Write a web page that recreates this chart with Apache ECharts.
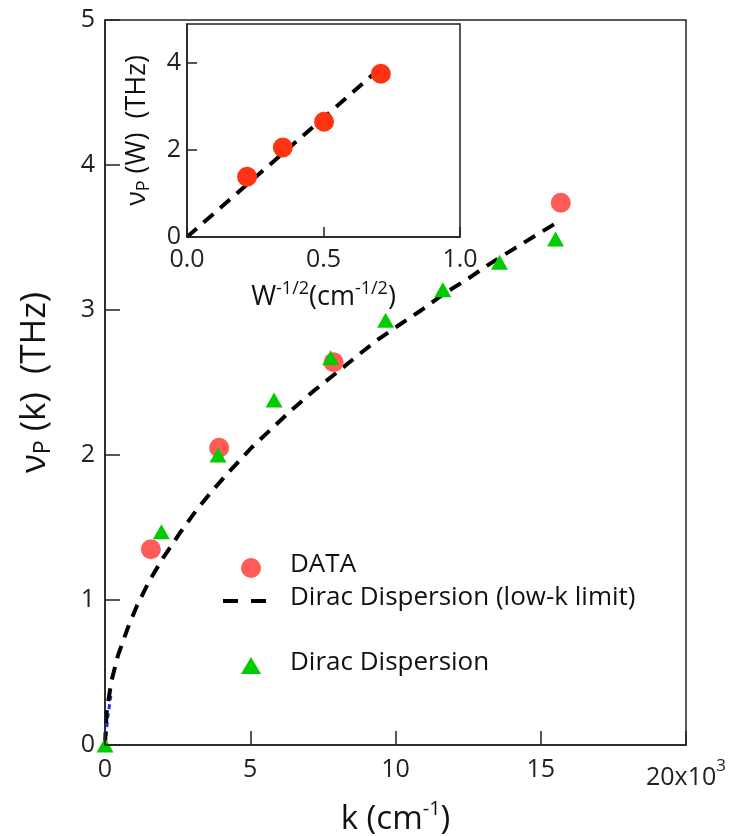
<!DOCTYPE html>
<html>
<head>
<meta charset="utf-8">
<script src="https://cdn.jsdelivr.net/npm/echarts@6/dist/echarts.min.js"></script>
<style>html,body{margin:0;padding:0;background:#fff}#c{width:743px;height:836px}</style>
</head>
<body>
<div id="c"></div>
<script>
// ---- main panel data (k in 10^3 cm^-1, nu in THz) ----
var dataK = [1.58, 3.93, 7.87, 15.69];
var dataNu = [1.35, 2.05, 2.64, 3.74];
var diracK = [0, 1.94, 3.89, 5.82, 7.77, 9.66, 11.63, 13.58, 15.51];
var diracNu = [0, 1.47, 2.0, 2.38, 2.67, 2.93, 3.14, 3.33, 3.49];
var lowKk = [0, 0.05, 0.22, 0.45, 0.79, 1.1, 1.52, 2.0, 2.57, 3.15, 3.72, 4.3, 5.04, 5.73, 6.42, 7.11, 7.86, 8.6, 9.35, 10.15, 10.9, 11.65, 12.45, 13.26, 14.06, 14.87, 15.7];
var lowKnu = [0, 0.22, 0.44, 0.62, 0.81, 0.96, 1.13, 1.29, 1.46, 1.62, 1.76, 1.89, 2.05, 2.18, 2.31, 2.43, 2.55, 2.67, 2.79, 2.9, 3.0, 3.11, 3.21, 3.32, 3.42, 3.52, 3.62];
var blueK = [0, 0.1, 0.2];
var blueNu = [0, 0.2, 0.34];
// ---- inset data ----
var insetW = [0.22, 0.351, 0.502, 0.71];
var insetNu = [1.38, 2.05, 2.64, 3.74];
var insetLineW = [0, 0.69];
var insetLineNu = [0, 3.77];
// ---- tick values ----
var mainXTicks = [0, 5, 10, 15, 20];
var mainYTicks = [0, 1, 2, 3, 4, 5];
var insetXTicks = [0, 0.5, 1.0];
var insetYTicks = [0, 2, 4];

function zip(a, b) { return a.map(function (v, i) { return [v, b[i]]; }); }

var FONT = 'Open Sans';
var AX = '#222';
var chart = echarts.init(document.getElementById('c'), null, {renderer: 'canvas'});

function tickOpt(len) {
  return {show: true, inside: true, length: len, lineStyle: {color: AX, width: 1.5}};
}

chart.setOption({
  backgroundColor: '#fff',
  animation: false,
  textStyle: {fontFamily: FONT},
  grid: [
    {left: 105, right: 57, top: 20, bottom: 91, containLabel: false, outerBoundsMode: 'none',
     show: true, borderColor: AX, borderWidth: 1.5, backgroundColor: 'transparent', z: 0},
    {left: 187, top: 24, width: 273, height: 213, containLabel: false, outerBoundsMode: 'none',
     show: true, borderColor: AX, borderWidth: 1.5, backgroundColor: '#fff', z: 0}
  ],
  xAxis: [
    {
      gridIndex: 0, type: 'value', min: mainXTicks[0], max: mainXTicks[mainXTicks.length - 1], interval: 5,
      z: 10,
      axisLine: {show: true, onZero: false, lineStyle: {color: AX, width: 1.5}},
      axisTick: tickOpt(14),
      splitLine: {show: false},
      axisLabel: {
        show: true, color: '#222', fontSize: 25, fontFamily: FONT,
        margin: 12,
        formatter: function (v) { return v === 20 ? '{b|20x10}{s|3}' : String(v); },
        rich: {
          b: {fontSize: 25, fontFamily: FONT, color: '#222', padding: [8, 0, 0, 0]},
          s: {fontSize: 17, fontFamily: FONT, color: '#222', padding: [0, 0, 14, 0]}
        }
      },
      name: '{t|k (cm}{s|-1}{t|)}',
      nameLocation: 'middle', nameGap: 54,
      nameTextStyle: {
        rich: {
          t: {fontSize: 33, fontFamily: FONT, color: '#111'},
          s: {fontSize: 20, fontFamily: FONT, color: '#111', padding: [0, 0, 22, 0]}
        }
      }
    },
    {
      gridIndex: 1, type: 'value', min: insetXTicks[0], max: insetXTicks[insetXTicks.length - 1], interval: 0.5,
      z: 10,
      axisLine: {show: true, onZero: false, lineStyle: {color: AX, width: 1.5}},
      axisTick: tickOpt(10),
      splitLine: {show: false},
      axisLabel: {show: true, color: '#222', fontSize: 25, fontFamily: FONT, margin: 10, formatter: function (v) { return v.toFixed(1); }},
      name: '{t|W}{s|-1/2}{t|(cm}{s|-1/2}{t|)}',
      nameLocation: 'middle', nameGap: 43,
      nameTextStyle: {
        rich: {
          t: {fontSize: 27, fontFamily: FONT, color: '#111'},
          s: {fontSize: 18, fontFamily: FONT, color: '#111', padding: [0, 0, 17, 0]}
        }
      }
    }
  ],
  yAxis: [
    {
      gridIndex: 0, type: 'value', min: mainYTicks[0], max: mainYTicks[mainYTicks.length - 1], interval: 1,
      z: 10,
      axisLine: {show: true, onZero: false, lineStyle: {color: AX, width: 1.5}},
      axisTick: tickOpt(15),
      splitLine: {show: false},
      axisLabel: {show: true, color: '#222', fontSize: 25, fontFamily: FONT, margin: 10},
      name: '{t|ν}{s|P}{t| (k)  (THz)}',
      nameLocation: 'middle', nameGap: 50, nameRotate: 90,
      nameTextStyle: {
        rich: {
          t: {fontSize: 35, fontFamily: FONT, color: '#111'},
          s: {fontSize: 23, fontFamily: FONT, color: '#111', padding: [16, 0, 0, 0]}
        }
      }
    },
    {
      gridIndex: 1, type: 'value', min: insetYTicks[0], max: 4.88, interval: 2,
      z: 10,
      axisLine: {show: true, onZero: false, lineStyle: {color: AX, width: 1.5}},
      axisTick: tickOpt(10),
      splitLine: {show: false},
      axisLabel: {show: true, color: '#222', fontSize: 25, fontFamily: FONT, margin: 6, showMaxLabel: false,
        formatter: function (v) { return (v % 2 === 0) ? String(v) : ''; }},
      name: '{t|ν}{s|P}{t| (W)  (THz)}',
      nameLocation: 'middle', nameGap: 34, nameRotate: 90,
      nameTextStyle: {
        rich: {
          t: {fontSize: 27, fontFamily: FONT, color: '#111'},
          s: {fontSize: 18, fontFamily: FONT, color: '#111', padding: [13, 0, 0, 0]}
        }
      }
    }
  ],
  series: [
    {
      type: 'line', xAxisIndex: 0, yAxisIndex: 0, data: zip(blueK, blueNu),
      showSymbol: false, lineStyle: {color: '#2233dd', width: 3, type: [5, 4]}, z: 2
    },
    {
      type: 'line', name: 'Dirac Dispersion (low-k limit)', xAxisIndex: 0, yAxisIndex: 0, data: zip(lowKk, lowKnu),
      showSymbol: false, smooth: false,
      lineStyle: {color: '#000', width: 4, type: [13, 9]}, z: 3
    },
    {
      type: 'scatter', name: 'DATA', xAxisIndex: 0, yAxisIndex: 0, data: zip(dataK, dataNu),
      symbol: 'circle', symbolSize: 20, itemStyle: {color: '#ff5c57', opacity: 1}, z: 4
    },
    {
      type: 'scatter', name: 'Dirac Dispersion', xAxisIndex: 0, yAxisIndex: 0, data: zip(diracK, diracNu),
      symbol: 'triangle', symbolSize: [17, 15], itemStyle: {color: '#00cc00', opacity: 1}, z: 5
    },
    {
      type: 'line', xAxisIndex: 1, yAxisIndex: 1, data: zip(insetLineW, insetLineNu),
      showSymbol: false, lineStyle: {color: '#000', width: 4, type: [13, 9]}, z: 6
    },
    {
      type: 'scatter', xAxisIndex: 1, yAxisIndex: 1, data: zip(insetW, insetNu),
      symbol: 'circle', symbolSize: 20, itemStyle: {color: '#ff3311', opacity: 1}, z: 7
    }
  ],
  graphic: [
    {type: 'circle', shape: {cx: 251, cy: 568, r: 10}, style: {fill: '#ff5c57'}},
    {type: 'text', left: 290, top: 552, style: {text: 'DATA', fontSize: 26, fontFamily: FONT, fill: '#111'}},
    {type: 'line', shape: {x1: 223, y1: 601, x2: 238, y2: 601}, style: {stroke: '#000', lineWidth: 4}},
    {type: 'line', shape: {x1: 251, y1: 601, x2: 266, y2: 601}, style: {stroke: '#000', lineWidth: 4}},
    {type: 'text', left: 290, top: 585, style: {text: 'Dirac Dispersion (low-k limit)', fontSize: 26, fontFamily: FONT, fill: '#111'}},
    {type: 'polygon', shape: {points: [[251, 657], [261, 674], [241, 674]]}, style: {fill: '#00cc00'}},
    {type: 'text', left: 290, top: 650, style: {text: 'Dirac Dispersion', fontSize: 26, fontFamily: FONT, fill: '#111'}}
  ]
});
</script>
</body>
</html>
